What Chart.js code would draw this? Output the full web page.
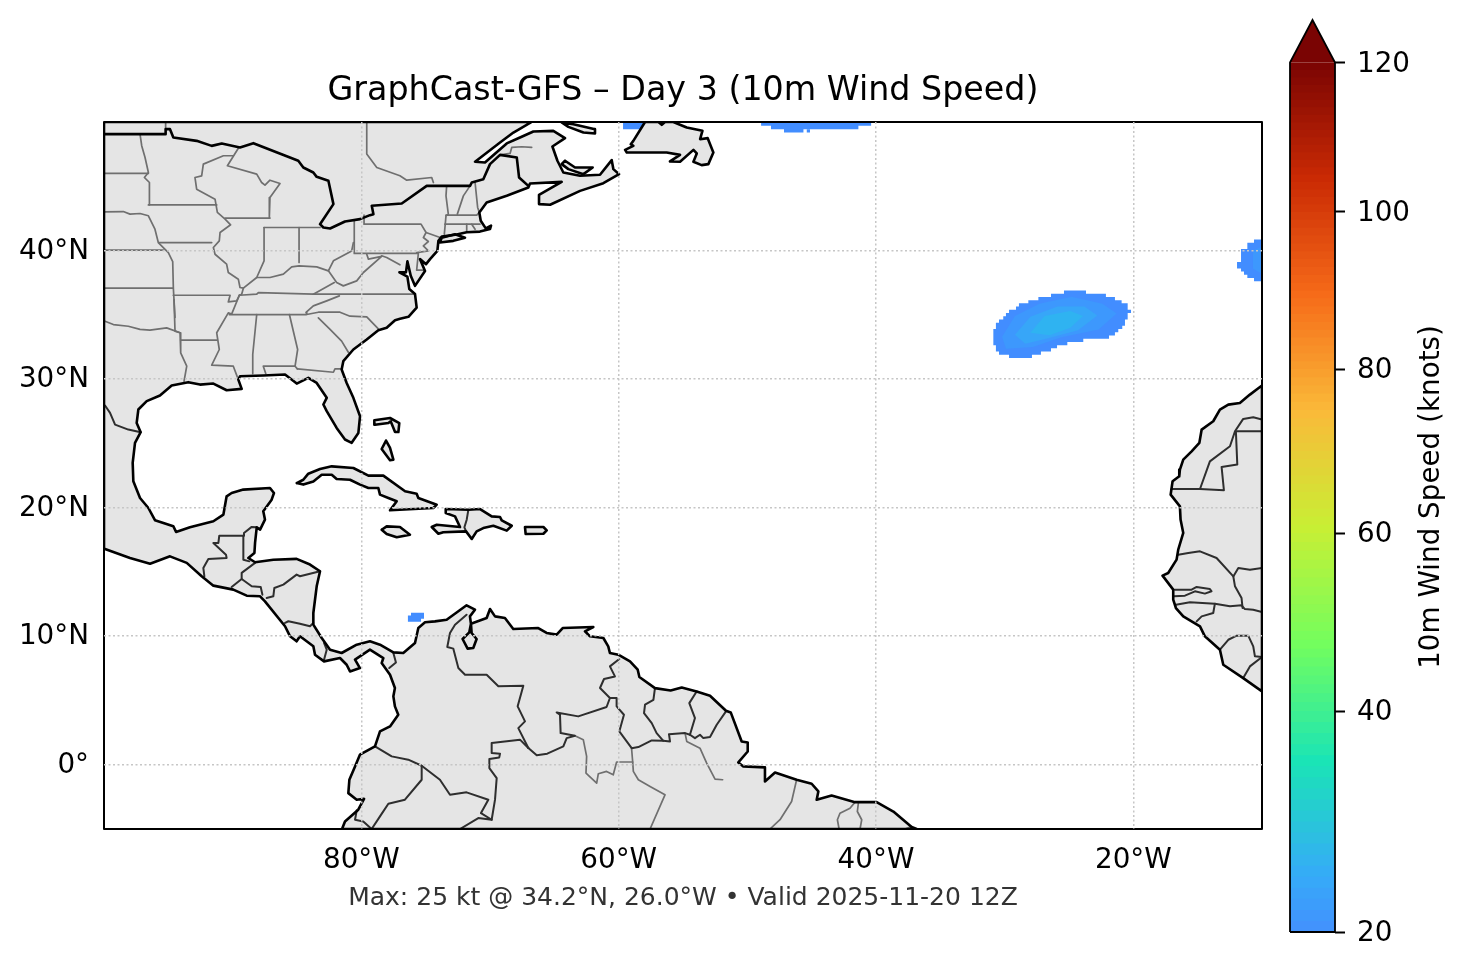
<!DOCTYPE html>
<html><head><meta charset="utf-8">
<style>html,body{margin:0;padding:0;background:#fff;width:1466px;height:969px;overflow:hidden}
canvas{position:absolute;top:0}</style>
<script src="https://cdn.jsdelivr.net/npm/chart.js@4"></script>
</head><body>
<canvas id="map" width="1366" height="969" style="left:0"></canvas>
<canvas id="cbar" width="196" height="969" style="left:1270px"></canvas>
<script>
const titleText = "GraphCast-GFS – Day 3 (10m Wind Speed)";
const footerText = "Max: 25 kt @ 34.2°N, 26.0°W • Valid 2025-11-20 12Z";
const cbarLabel = "10m Wind Speed (knots)";
const lonTicks = [-80,-60,-40,-20];
const latTicks = [0,10,20,30,40];
const windTicks = [20,40,60,80,100,120,125];
const windTickDecimals = [0,0.2423,0.4375,0.6173,0.7895,0.9534,1];
const windLabelled = [20,40,60,80,100,120];
const turboStops = [0.17,0.222,0.333,0.444,0.556,0.667,0.778,0.889,1];
const turboColors = ["#4390fe","#36aaf9","#1ae4b6","#72fe5e","#c8ef34","#faba39","#f66b19","#ca2a04","#7a0403"];

const americas = [[-100,50],[-66.76,50],[-68.18,49.18],[-69.22,48.4],[-71.16,46.9],[-70.39,46.85],[-68.7,48.33],[-67.67,48.79],[-66.63,49.26],[-65.08,49.31],[-64.17,48.74],[-65.15,48.09],[-64.76,46.98],[-64.3,46.07],[-63,45.81],[-61.45,45.89],[-60.54,47.03],[-60.41,46.33],[-59.97,45.94],[-61.19,45.24],[-63,44.64],[-65.33,43.56],[-66.16,43.61],[-66.19,44.33],[-64.43,45.34],[-66.89,45.21],[-67.02,44.9],[-68.7,44.26],[-70.26,43.74],[-70.83,42.96],[-70.72,42.31],[-70.33,41.72],[-69.92,41.93],[-70,41.67],[-70.78,41.47],[-71.81,41.42],[-72.59,41.24],[-73.75,41.08],[-74.01,40.75],[-74.09,39.97],[-74.66,39.33],[-74.97,38.94],[-75.44,39.33],[-75.05,38.41],[-75.83,37.25],[-76.16,38.04],[-76.42,39.16],[-76.53,38.3],[-77.04,38.3],[-76.42,37.97],[-76.27,37],[-75.83,36.62],[-75.7,35.56],[-76.34,34.84],[-76.99,34.69],[-77.38,34.58],[-78.03,33.99],[-78.68,33.8],[-79.58,33.08],[-80.62,32.3],[-81.4,31.39],[-81.53,30.74],[-81.14,29.7],[-80.62,28.54],[-80.1,27.11],[-80.23,25.81],[-80.75,25.04],[-81.27,25.3],[-81.92,26.2],[-82.69,27.5],[-82.95,28.02],[-82.69,28.54],[-83.47,29.7],[-84.12,30.09],[-85.02,29.65],[-85.93,30.35],[-87.62,30.28],[-89.43,30.22],[-89.56,29.96],[-89.3,29.24],[-90.47,29.13],[-91.5,29.65],[-92.54,29.57],[-93.45,29.76],[-94.74,29.5],[-95.65,28.72],[-96.68,28.28],[-97.33,27.63],[-97.46,26.59],[-97.15,25.87],[-97.59,25.04],[-97.77,23.48],[-97.72,22.05],[-97.2,20.75],[-96.55,19.97],[-96.04,19.02],[-94.61,18.55],[-94.4,18.11],[-93.32,18.47],[-91.5,18.94],[-90.72,19.46],[-90.47,20.88],[-90.08,21.14],[-89.17,21.4],[-87.1,21.53],[-86.79,21.14],[-86.97,20.62],[-87.62,19.72],[-87.49,19.07],[-87.87,18.29],[-88.13,18.47],[-88.26,17.25],[-88.31,16.47],[-88.78,16.08],[-88.26,15.75],[-86.84,15.95],[-85.03,16.01],[-83.99,15.57],[-83.21,15.05],[-83.47,13.88],[-83.73,11.8],[-83.73,10.9],[-83.08,9.86],[-82.43,8.95],[-81.53,8.69],[-80.36,9.34],[-79.33,9.6],[-78.55,9.34],[-77.51,8.74],[-76.74,8.69],[-75.83,9.47],[-75.57,10.63],[-75.05,11.08],[-74.28,11.15],[-73.37,11.28],[-71.82,12.4],[-71.17,12.06],[-71.56,11.54],[-71.48,10.97],[-71.43,10.25],[-71.04,9.78],[-71.3,9.08],[-71.74,9.03],[-72.13,9.78],[-71.61,10.3],[-71.48,10.97],[-70.26,11.41],[-70,12.11],[-69.61,11.54],[-68.84,11.41],[-68.19,10.56],[-66.25,10.63],[-65.6,10.25],[-64.82,10.12],[-64.35,10.63],[-61.97,10.71],[-62.62,10.38],[-62.23,9.99],[-61.19,9.86],[-60.81,9.21],[-60.68,8.69],[-60.03,8.56],[-59.12,8.04],[-58.52,7.39],[-58.39,6.82],[-57.18,5.96],[-55.96,5.78],[-55.1,6.01],[-53.94,5.7],[-52.9,5.37],[-51.66,4.2],[-51.29,4.07],[-50.44,1.81],[-49.97,1.73],[-49.97,1.03],[-50.7,0.18],[-50.31,-0.13],[-48.63,-0.21],[-48.63,-1.3],[-47.85,-0.6],[-46.17,-1.17],[-45,-1.48],[-44.48,-2.08],[-44.61,-2.73],[-43.45,-2.39],[-41.63,-2.91],[-39.95,-2.91],[-38.65,-3.64],[-37.23,-4.85],[-36.84,-5],[-81.5,-5],[-81.27,-4.41],[-80.24,-3.5],[-79.79,-2.65],[-80.36,-2.72],[-81.01,-2.21],[-80.93,-1.17],[-80.49,-0.13],[-80.11,0.78],[-78.94,1.43],[-78.55,2.59],[-77.77,2.98],[-77.13,3.89],[-77.39,4.54],[-77.51,5.32],[-77.39,5.97],[-77.77,7],[-78.42,7.91],[-78.29,8.3],[-79.33,8.95],[-80.49,8.17],[-80.11,7.52],[-80.88,7.26],[-81.14,7.78],[-81.66,8.3],[-82.9,8.04],[-83.6,8.56],[-83.73,9.21],[-84.77,9.99],[-85.03,9.6],[-85.54,9.99],[-85.93,10.77],[-87.49,12.71],[-87.87,13.1],[-88.91,13.15],[-89.95,13.62],[-91.5,13.93],[-92.41,14.66],[-93.57,15.7],[-94.87,16.21],[-96.42,15.64],[-97.98,16.08],[-99.92,16.78],[-100,16.8],[-100,50]];
const africa = [[-10,29.5],[-10.94,28.79],[-11.72,28.14],[-12.62,28.01],[-13.27,27.63],[-13.79,26.72],[-14.69,26.07],[-14.87,25.03],[-15.47,24.38],[-16.12,23.73],[-16.38,22.96],[-16.43,22.44],[-16.95,22.05],[-17.1,21.01],[-16.38,20.1],[-16.33,19.07],[-16.12,18.03],[-16.51,16.73],[-16.64,15.95],[-17.29,14.91],[-17.73,14.71],[-16.9,13.62],[-16.9,12.84],[-16.69,12.19],[-16.12,11.54],[-14.82,10.76],[-14.44,9.99],[-13.27,8.95],[-13.01,7.78],[-11.46,6.74],[-10,5.7]];
const cuba = [[-85.02,21.91],[-84.51,22.17],[-84.12,22.64],[-83.21,23],[-82.3,23.21],[-80.62,23.08],[-79.45,22.49],[-78.29,22.49],[-76.6,21.27],[-75.7,21.08],[-75.57,20.75],[-74.14,20.23],[-74.4,19.97],[-77.77,19.79],[-77.25,20.49],[-77.9,20.75],[-78.55,21.01],[-78.68,21.53],[-79.45,21.53],[-80.1,21.79],[-80.88,22.17],[-81.92,22.23],[-82.3,22.56],[-83.08,22.56],[-83.73,22.04],[-84.51,21.79]];
const hispaniola = [[-73.44,19.89],[-71.68,19.84],[-70.77,19.89],[-69.87,19.32],[-69.22,19.27],[-69.09,19.01],[-68.31,18.59],[-68.7,18.21],[-69.74,18.59],[-70.52,18.41],[-71.04,18.15],[-71.42,17.56],[-71.86,18.15],[-73.63,18.08],[-74.01,17.97],[-74.53,18.49],[-74.14,18.67],[-72.33,18.49],[-72.72,19.32],[-73.44,19.58]];
const jamaica = [[-78.42,18.28],[-78.03,18.54],[-77,18.49],[-76.22,17.89],[-77.25,17.69],[-78.03,17.95]];
const puertoRico = [[-67.28,18.49],[-65.85,18.49],[-65.59,18.23],[-65.85,17.97],[-67.23,17.95]];
const bahamasNorth = [[-78.99,26.79],[-77.77,26.97],[-77.05,26.58],[-77.12,25.88],[-77.38,25.88],[-77.72,26.71],[-77.9,26.58],[-78.94,26.45]];
const bahamasAndros = [[-78.08,25.21],[-77.77,24.64],[-77.51,23.73],[-77.77,23.68],[-78.42,24.56]];
const longIsland = [[-73.75,41],[-72.72,41.27],[-71.94,41],[-72.85,40.75],[-73.9,40.62]];
const anticosti = [[-64.43,49.96],[-63.52,49.83],[-61.84,49.44],[-61.84,49.1],[-62.74,49.18],[-63.91,49.62]];
const princeEdward = [[-64.17,46.98],[-63.39,46.46],[-62.02,46.46],[-62.74,45.94],[-63.91,46.33],[-64.43,46.72]];
const newfoundland = [[-57.95,50],[-58.86,48.53],[-59.06,48.27],[-58.86,48.14],[-59.5,47.83],[-59.37,47.63],[-56.27,47.63],[-55.23,47.44],[-56.01,46.93],[-55.23,46.9],[-54.19,47.83],[-53.93,47.55],[-54.19,46.9],[-53.55,46.64],[-53.03,46.72],[-52.64,47.63],[-53.08,48.74],[-53.67,48.66],[-53.49,49.31],[-54.71,49.57],[-55.75,50],[-56.4,50],[-56.65,49.78],[-56.91,50]];
const usCanadaBorder = [[-100,49.05],[-95.21,49.05],[-95.21,49.44],[-94.87,49.44],[-94.61,48.79],[-92.8,48.53],[-91.63,48.14],[-90.85,48.33],[-89.43,48.02],[-88.39,48.35],[-84.9,46.98],[-84.51,46.46],[-83.73,46.07],[-83.47,45.73],[-82.56,45.42],[-82.17,43.61],[-83.21,42.05],[-82.95,41.79],[-82.43,41.71],[-81.27,42.26],[-80.1,42.44],[-79.33,42.75],[-79.06,42.83],[-79.19,43.48],[-76.86,43.66],[-74.92,45.03],[-71.55,45.03],[-71.42,45.29],[-70.52,45.55],[-70,46.72],[-69.22,47.44],[-67.92,47.24],[-67.74,45.68],[-67.02,45.03]];

const stateLines = [
[[-95.21,50],[-95.21,49.44]],
[[-79.58,50],[-79.58,47.5],[-78.8,46.46],[-77,45.81],[-76.47,45.47],[-74.53,45.68],[-74.4,45.29]],
[[-69.22,47.44],[-68.44,47.55],[-68.31,48.02],[-67.54,48.07],[-66.76,48.02]],
[[-97.2,49.05],[-97.07,48.15],[-96.81,47.24],[-96.55,46.07],[-96.86,45.68],[-96.47,45.29],[-96.47,43.55]],
[[-100,46],[-96.55,46]],
[[-100,43],[-98.5,43.03],[-97.98,42.83],[-97.2,42.88],[-96.55,42.7],[-96.04,41.66],[-95.78,40.62],[-95,39.84],[-94.66,39.14],[-94.61,37.07],[-94.48,34.79]],
[[-96.55,43.55],[-91.24,43.55]],
[[-95.7,40.62],[-91.63,40.62]],
[[-100,40.03],[-95.39,40.03]],
[[-100,37.07],[-94.66,37.07]],
[[-94.61,36.52],[-90.2,36.52],[-90.34,36],[-89.69,36.08],[-89.48,36.52]],
[[-89.95,47.37],[-90.72,47.37],[-92.28,46.72],[-92.41,45.81],[-92.93,45.68],[-92.8,44.77],[-91.37,43.99],[-91.19,42.96],[-90.59,42.44],[-90.16,42],[-90.98,41.4],[-91.04,40.75],[-91.5,40.23],[-91.37,39.71],[-90.47,38.94],[-90.34,38.29],[-89.56,37.77],[-89.43,37.12],[-89.17,37.07],[-89.3,36.6],[-89.48,36.52],[-90.08,35.05],[-90.34,35.15],[-91.24,33.6],[-91.04,32.3],[-91.63,31.08],[-89.95,31],[-89.64,30.17]],
[[-89.56,47.96],[-90.41,46.59],[-88.13,45.94],[-87.75,45.29],[-87.49,45.08],[-87.1,45.47],[-86.32,45.21],[-87.1,44.12],[-87.15,42.57]],
[[-90.59,42.52],[-87.1,42.52]],
[[-87.56,41.79],[-87.56,39.2],[-88.13,37.9],[-89.17,37.07]],
[[-84.84,41.79],[-84.84,39.07]],
[[-87.56,41.79],[-83.21,41.79]],
[[-88.13,37.9],[-87.1,37.9],[-86.06,38.16],[-85.41,38.73],[-84.84,38.81],[-83.47,38.73],[-82.56,38.42],[-82.17,39.2],[-80.75,39.97],[-80.62,40.62]],
[[-80.55,42.31],[-80.55,39.77],[-75.57,39.77],[-75.7,38.47],[-75.13,38.47]],
[[-82.56,38.42],[-81.92,37.51],[-81.4,37.25],[-80.36,37.64],[-79.84,38.29],[-78.42,39.55],[-79.45,39.33],[-79.58,39.71]],
[[-78.42,39.59],[-78.03,39.46],[-77,38.89]],
[[-82.1,37.51],[-83.73,36.6]],
[[-89.48,36.52],[-88.13,36.6],[-88,36.73],[-83.73,36.6],[-75.96,36.6]],
[[-81.71,36.47],[-82.69,36.08],[-83.73,35.69],[-84.3,35.18],[-84.24,35.05]],
[[-90.26,35.02],[-84.25,35.02],[-83.34,35.2],[-81.66,35.2],[-80.88,34.89],[-79.58,34.84],[-78.68,33.91]],
[[-94.04,33.03],[-91.24,33.03]],
[[-94.56,36.19],[-94.48,33.73],[-94.09,33.6],[-94.04,32.04],[-93.57,31],[-93.78,29.83]],
[[-99.92,34.5],[-99.27,34.24],[-98.11,34.11],[-97.2,33.86],[-96.43,33.8],[-95.13,33.98],[-94.09,33.6]],
[[-83.34,34.76],[-82.43,33.86],[-81.53,32.95],[-81.01,32.09]],
[[-88.13,35.02],[-88.44,31.91],[-88.44,30.43]],
[[-85.59,35.02],[-84.95,32.3],[-85.15,31],[-84.97,30.79]],
[[-85.15,31],[-87.62,31],[-87.43,30.43]],
[[-84.97,30.79],[-82.17,30.53],[-82.05,30.79],[-81.53,30.79]],
[[-79.79,42.75],[-79.79,42.05],[-75.36,42.05],[-74.97,41.4],[-73.88,41.01]],
[[-74.97,41.4],[-75.18,41.01],[-74.79,40.7],[-75.18,40.36],[-74.79,39.97],[-75.7,39.84]],
[[-73.37,45.03],[-73.42,44.25],[-73.24,42.83],[-73.42,42.7],[-73.55,41.27]],
[[-71.55,45.03],[-72.07,44.25],[-72.54,42.83]],
[[-73.42,42.75],[-71.03,42.75],[-70.83,42.96]],
[[-71.16,45.29],[-70.96,43.35],[-70.83,42.96]],
[[-73.5,42.05],[-70.78,42.05]],
[[-71.81,42.05],[-71.81,41.42]],
[[-71.42,42.05],[-71.16,41.66]],
[[-63.4,2.26],[-62.75,1.95],[-62.49,0.65],[-62.54,-0.65],[-61.71,-1.43],[-61.58,-0.7],[-60.94,-0.52],[-60.42,-0.78],[-60.16,0.21],[-58.91,0.21],[-58.86,-0.52],[-58.47,-1.17],[-57.56,-1.69],[-56.4,-2.34],[-57.56,-5]],
[[-59,1.3],[-58.91,0.21]],
[[-54.84,2.46],[-54.71,1.81],[-53.68,1.29],[-53.16,0.12],[-52.51,-1.12],[-51.92,-1.17]],
[[-46.17,-1.17],[-46.56,-2.86],[-47.46,-4.28],[-48.24,-5]],
[[-41.63,-2.91],[-42.02,-3.38],[-42.8,-3.77],[-43,-4.28],[-42.87,-5]],
[[-41.37,-2.99],[-41.45,-3.64],[-41.11,-4.28],[-41.24,-5]],
[[-37.75,-5],[-37.23,-4.8]]
];
const countryLines = [
[[-99.92,27.94],[-99.53,27.37],[-99.14,26.46],[-98.11,26.07],[-97.15,25.87]],
[[-71.68,19.84],[-71.81,19.06],[-71.99,18.47],[-71.86,18.15]],
[[-89.17,17.82],[-91.04,17.82],[-91.11,17.25],[-91.5,17.25],[-90.52,16.34],[-90.47,16.08],[-91.89,16],[-92.28,15.31],[-92.2,14.66]],
[[-89.17,17.82],[-89.17,15.95],[-88.7,15.82]],
[[-89.17,17.82],[-89.12,18.03],[-88.52,18.5],[-88.13,18.47]],
[[-88.26,15.7],[-89.3,14.92],[-89.3,14.45],[-90.08,13.83]],
[[-89.3,14.45],[-88.52,13.88],[-87.82,13.83],[-87.69,13.23]],
[[-87.36,12.97],[-86.84,13.1],[-86.76,13.75],[-86.06,14.01],[-85.03,14.79],[-84.77,14.66],[-83.21,15.05]],
[[-85.93,11.03],[-85.67,11.16],[-84.77,10.97],[-83.99,10.77],[-83.73,11.03]],
[[-82.9,9.47],[-82.69,8.95],[-82.9,8.17]],
[[-77.83,7.52],[-77.31,7.96],[-77.51,8.69]],
[[-71.82,11.67],[-72.72,10.89],[-73.11,10.25],[-73.32,9.16],[-72.85,9.03],[-72.46,7.52],[-71.94,7],[-70.26,7],[-69.35,6.1],[-67.41,6.15],[-67.85,4.54],[-67.28,3.37],[-67.8,2.85],[-67.02,1.3]],
[[-67.02,1.3],[-67.67,1.95],[-69.87,1.69],[-69.87,0.91],[-69.22,0.86],[-69.28,0.57],[-70.05,0.44],[-70.05,-0.26],[-69.48,-1.04],[-69.61,-2.72],[-69.87,-4.28]],
[[-67.02,1.3],[-66.37,0.73],[-65.55,0.86],[-64.3,1.43],[-64.04,2.07],[-63.4,2.26],[-64.51,2.46],[-64.56,3.89],[-64.82,4.07],[-63.14,3.76],[-60.94,4.49],[-60.68,5.19],[-61.45,5.97],[-61.14,6.67],[-60.29,6.87],[-60.68,7.65],[-59.95,8.22]],
[[-60.68,5.19],[-60.16,5.19],[-60.16,4.54],[-59.59,3.89],[-59.95,2.59],[-58.99,1.29],[-58.47,1.37],[-57.43,1.89],[-56.53,1.86],[-56.01,1.81],[-56.09,2.38],[-54.84,2.46],[-54.46,2.33],[-54.07,2.07],[-53.68,2.33],[-53.42,2.07],[-52.9,2.15],[-52.38,3.11],[-51.66,4.15]],
[[-57.18,5.96],[-57.3,5.05],[-57.95,4.67],[-58.03,4.02],[-57.43,3.24],[-57.05,2.46],[-56.53,1.86]],
[[-53.94,5.7],[-54.51,4.79],[-54.07,3.63],[-54.46,2.33]],
[[-78.94,1.43],[-77.64,0.65],[-76.35,0.39],[-75.31,-0.08],[-73.89,-1.17],[-73.11,-2.34],[-71.82,-2.15],[-70.13,-2.72],[-70.7,-3.76],[-69.87,-4.28],[-70.91,-4.15],[-72.33,-5]],
[[-75.31,-0.08],[-75.31,-1.17],[-76.61,-2.72],[-77.9,-3.03],[-78.55,-4.02],[-79.2,-5],[-79.85,-4.41],[-80.49,-4.28],[-80.36,-3.55]],
[[-17.03,21.45],[-14.82,21.45],[-12.96,21.35],[-13.14,23.16],[-11.92,23.35],[-12.03,25.94],[-10,25.94]],
[[-14.82,21.45],[-14.05,23.6],[-12.49,24.77],[-12.1,25.94],[-11.46,26.9],[-10.68,27.03],[-10,26.85]],
[[-16.51,16.34],[-15.73,16.47],[-14.82,16.6],[-13.53,16.08],[-12.23,14.65],[-11.84,15.3],[-10.94,15.17],[-10,15.3]],
[[-12.23,14.65],[-12.1,13.88],[-11.59,12.97],[-11.51,12.19]],
[[-16.77,13.62],[-15.47,13.62],[-15.08,13.83],[-14.05,13.67],[-13.92,13.49],[-14.44,13.31],[-15.21,13.49],[-15.99,13.15],[-16.84,13.1]],
[[-16.69,12.45],[-15.6,12.63],[-13.66,12.53],[-12.49,12.32],[-11.59,12.4],[-11.33,12.11],[-10.68,12.06],[-10,11.88]],
[[-13.66,12.53],[-13.79,11.8],[-14.69,11.54],[-15.08,11.15]],
[[-13.27,8.95],[-12.62,9.72],[-11.97,10.04],[-11.07,10.04],[-10.68,9.21],[-10.55,8.43],[-10,8.38]],
[[-10,8.38],[-10.94,7.65],[-11.46,6.74]]
];

// wind field rows: north edge latitude, west longitude, east longitude; last row is the south edge
const windAzoresRows = [[36.89,-25.39,-23.68],[36.64,-26.4,-22.13],[36.39,-27.38,-21.43],[36.14,-28.16,-20.91],[35.89,-28.89,-20.44],[35.64,-29.12,-20.44],[35.39,-29.66,-20.18],[35.14,-29.9,-20.44],[34.89,-30.11,-20.44],[34.64,-30.44,-20.65],[34.39,-30.68,-20.65],[34.14,-30.68,-20.86],[33.89,-30.88,-21.17],[33.64,-30.88,-21.43],[33.39,-30.88,-21.89],[33.14,-30.88,-23.89],[32.89,-30.88,-25.13],[32.64,-30.68,-25.93],[32.39,-30.68,-26.4],[32.14,-30.44,-27.18],[31.89,-29.66,-27.88],[31.64]];
const windIberiaRows = [[40.86,-10.62,-10],[40.61,-11.14,-10],[40.36,-11.14,-10],[40.11,-11.63,-10],[39.86,-11.63,-10],[39.61,-11.63,-10],[39.36,-11.63,-10],[39.11,-11.94,-10],[38.86,-11.94,-10],[38.61,-11.63,-10],[38.36,-11.4,-10],[38.11,-11.14,-10],[37.86,-10.62,-10],[37.61]];
const windCaribRows = [[11.83,-76.14,-75.13],[11.6,-76.38,-75.13],[11.36,-76.38,-75.36],[11.13]];
const windLabradorRows = [[50,-49.87,-40.2],[49.92,-48.93,-40.38],[49.7,-48.16,-41.37],[49.44,-47.15,-45.64],[49.18]];
const windLabradorChipRows = [[49.44,-45.38,-45.13],[49.18]];
const windGulfRows = [[50,-59.66,-57.9],[49.44]];
const windStripRows = [[50,-54.19,-50.85],[49.95]];
const windAzoresBand2 = [[-30.2,33.3],[-29.2,34.9],[-27.3,35.85],[-24.8,36.4],[-22.4,35.85],[-21.3,35.1],[-22.7,33.85],[-25.6,33.25],[-27.8,32.5],[-29.9,32.35]];
const windAzoresBand3 = [[-29.2,33.45],[-28,34.85],[-25.9,35.65],[-23.8,35.65],[-22.8,34.95],[-24.3,33.8],[-26.7,33.15],[-28.4,32.75]];
const windAzoresCore = [[-28,33.6],[-26.9,34.9],[-24.9,35.3],[-23.9,34.9],[-24.9,34],[-26.5,33.4]];
const windIberiaBand2 = [[-10.7,40],[-10,40.3],[-10,38.2],[-10.7,38.6]];

const mapFrame = [[-100,-5],[-10,-5],[-10,50],[-100,50],[-100,-5]];

const toXY = p => ({x:p[0], y:p[1]});
function stairs(rows){
  const pts=[]; const n=rows.length-1;
  for(let i=0;i<n;i++){pts.push([rows[i][2],rows[i][0]],[rows[i][2],rows[i+1][0]]);}
  for(let i=n-1;i>=0;i--){pts.push([rows[i][1],rows[i+1][0]],[rows[i][1],rows[i][0]]);}
  return pts;
}
const area = (pts,color,order)=>({data:pts.map(toXY),showLine:true,pointRadius:0,borderWidth:0,borderColor:color,backgroundColor:color,fill:'shape',order});
const stroke = (pts,color,w,order)=>({data:pts.map(toXY),showLine:true,pointRadius:0,borderWidth:w,borderColor:color,backgroundColor:color,fill:false,order,borderJoinStyle:'round',borderCapStyle:'round'});
const closed = p=>p.concat([p[0]]);

const landPolys=[americas,africa,cuba,hispaniola,jamaica,puertoRico,bahamasNorth,bahamasAndros,longIsland,anticosti,princeEdward,newfoundland];
const LAND="#e5e5e5", STATE="#6f6f6f", COUNTRY="#2e2e2e", COAST="#000000";
const WIND1="#428dff", WIND2="#3d98fd", WIND3="#37a6f8", WIND4="#2fb3f1";
const mapDatasets=[
  ...[windAzoresRows,windIberiaRows,windCaribRows,windLabradorRows,windLabradorChipRows,windGulfRows,windStripRows].map(r=>area(stairs(r),WIND1,80)),
  area(windAzoresBand2,WIND2,79),area(windIberiaBand2,WIND2,79),area(windAzoresBand3,WIND3,78),area(windAzoresCore,WIND4,77),
  ...landPolys.map(p=>area(closed(p),LAND,60)),
  ...stateLines.map(p=>stroke(p,STATE,1.7,50)),
  ...countryLines.map(p=>stroke(p,COUNTRY,2,40)),
  ...landPolys.map(p=>stroke(closed(p),COAST,2.6,30)),
  stroke(usCanadaBorder,COAST,2.6,30),
  Object.assign(stroke(mapFrame,COAST,2,0),{clip:false})
];
const FONT="'DejaVu Sans'";
new Chart(document.getElementById('map'),{
  type:'scatter',
  data:{datasets:mapDatasets},
  options:{
    responsive:false,animation:false,devicePixelRatio:1,events:[],
    layout:{padding:{left:0,right:0,top:0,bottom:56}},
    plugins:{legend:{display:false},tooltip:{enabled:false},
      title:{display:true,text:titleText,color:'#000',font:{family:FONT,size:33.3,weight:'normal',lineHeight:1.2},padding:{top:71,bottom:11}}},
    scales:{
      x:{type:'linear',min:-100,max:-10,afterFit:s=>{s.height=84;},
        afterBuildTicks:s=>{s.ticks=lonTicks.map(v=>({value:v}));},
        grid:{z:1,color:'#c6c6c6',lineWidth:1.5,drawTicks:false},border:{display:false,dash:[2,2.5]},
        ticks:{autoSkip:false,maxRotation:0,padding:15,color:'#000',font:{family:FONT,size:27.8},callback:v=>Math.abs(v)+'°W'},
        title:{display:true,text:footerText,color:'#333',font:{family:FONT,size:25},padding:0}},
      y:{type:'linear',min:-5,max:50,afterFit:s=>{s.width=104;},
        afterBuildTicks:s=>{s.ticks=latTicks.map(v=>({value:v}));},
        grid:{z:1,color:'#c6c6c6',lineWidth:1.5,drawTicks:false},border:{display:false,dash:[2,2.5]},
        ticks:{autoSkip:false,padding:15,labelOffset:1,color:'#000',font:{family:FONT,size:27.8},callback:v=>v===0?'0°':v+'°N'}},
      yMargin:{type:'linear',position:'right',min:-5,max:50,afterFit:s=>{s.width=104;},
        grid:{display:false},border:{display:false},ticks:{display:false}}
    }
  }
});

// colorbar
function normDecimal(v){
  for(let i=0;i<windTicks.length-1;i++){
    if(v<=windTicks[i+1]){const t=(v-windTicks[i])/(windTicks[i+1]-windTicks[i]);return windTickDecimals[i]+t*(windTickDecimals[i+1]-windTickDecimals[i]);}
  }
  return 1;
}
class WindNormScale extends Chart.LinearScale{
  getPixelForValue(v){return this.getPixelForDecimal(normDecimal(v));}
  drawTitle(){
    const o=this.options.title, c=this.ctx;
    c.save();c.translate(this.right-o.inset,(this.top+this.bottom)/2+21);c.rotate(-Math.PI/2);
    c.textAlign='center';c.textBaseline='middle';c.fillStyle=o.color;c.font=`${o.font.size}px ${o.font.family}`;
    c.fillText(o.text,0,0);c.restore();
  }
}
WindNormScale.id='windNorm';
WindNormScale.defaults=Chart.LinearScale.defaults;
Chart.register(WindNormScale);
function hexRgb(h){return [1,3,5].map(i=>parseInt(h.slice(i,i+2),16));}
function turboAt(t){
  const f=0.17+0.83*t;
  for(let i=0;i<turboStops.length-1;i++){
    if(f<=turboStops[i+1]){const k=(f-turboStops[i])/(turboStops[i+1]-turboStops[i]);const a=hexRgb(turboColors[i]),b=hexRgb(turboColors[i+1]);
      return `rgb(${a.map((c,j)=>Math.round(c+k*(b[j]-c))).join(',')})`;}
  }
  return turboColors[turboColors.length-1];
}
const cbarTop=120, cbarBase=20, cbarApex=125;
const cbarSets=[];
for(let v=cbarBase+1;v<=cbarTop;v++){
  cbarSets.push({data:[{x:0,y:v},{x:1,y:v}],showLine:true,pointRadius:0,borderWidth:0,fill:{value:cbarBase},
    backgroundColor:turboAt(normDecimal(v-0.5)/normDecimal(cbarTop)),order:v});
}
cbarSets.push({data:[{x:0,y:cbarTop},{x:0.5,y:cbarApex},{x:1,y:cbarTop}],showLine:true,pointRadius:0,borderWidth:0,fill:{value:cbarTop},backgroundColor:'#7a0403',order:150});
cbarSets.push({data:[[0,cbarBase],[1,cbarBase],[1,cbarTop],[0.5,cbarApex],[0,cbarTop],[0,cbarBase]].map(toXY),showLine:true,pointRadius:0,borderWidth:1.8,borderColor:'#000',fill:false,order:0,clip:false,borderJoinStyle:'miter'});
new Chart(document.getElementById('cbar'),{
  type:'scatter',
  data:{datasets:cbarSets},
  options:{
    responsive:false,animation:false,devicePixelRatio:1,events:[],
    layout:{padding:{left:20,right:0,top:20,bottom:37}},
    plugins:{legend:{display:false},tooltip:{enabled:false}},
    scales:{
      x:{type:'linear',min:0,max:1,display:false},
      y:{type:'windNorm',position:'right',min:cbarBase,max:cbarApex,afterFit:s=>{s.width=131;s.paddingTop=0;s.paddingBottom=0;},
        afterBuildTicks:s=>{s.ticks=windLabelled.map(v=>({value:v}));},
        grid:{drawOnChartArea:false,drawTicks:true,tickLength:10,tickColor:'#000',tickWidth:2,color:'#000'},border:{display:false},
        ticks:{autoSkip:false,padding:12,labelOffset:2,color:'#000',font:{family:FONT,size:27.8},callback:v=>String(v)},
        title:{display:true,text:cbarLabel,color:'#000',inset:34,font:{family:FONT,size:27.8}}}
    }
  }
});
</script>
</body></html>
